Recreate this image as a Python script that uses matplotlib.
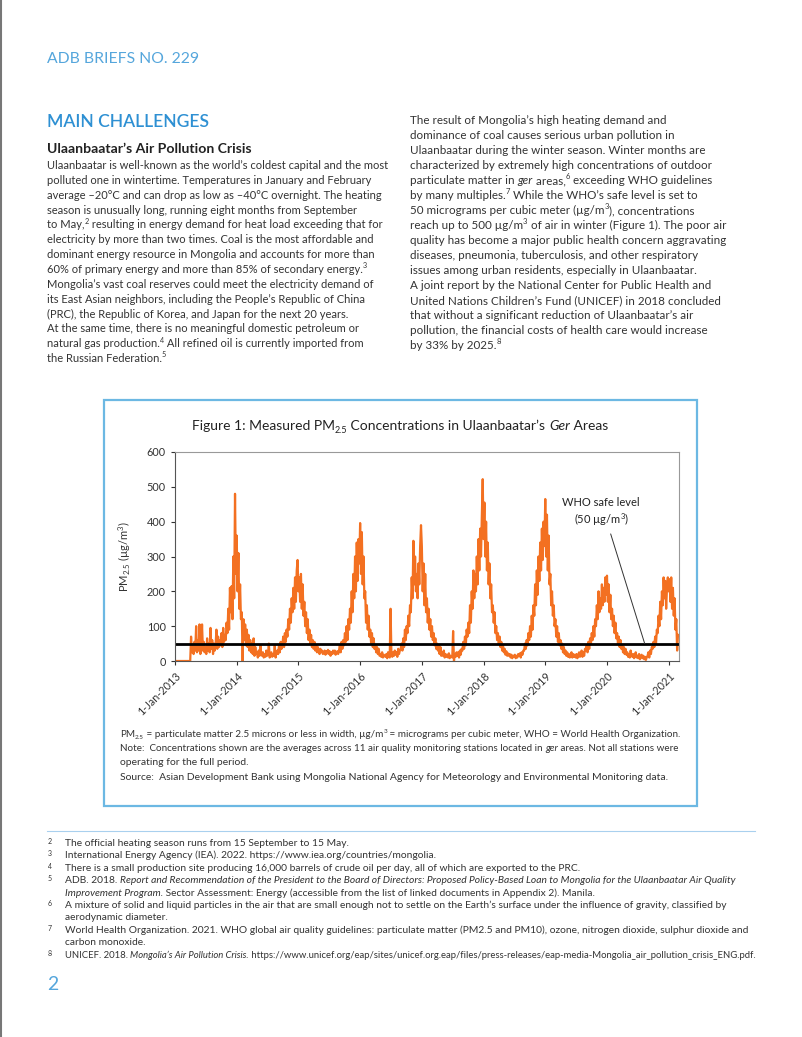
import re
import matplotlib.pyplot as plt
from matplotlib.patches import Rectangle
from matplotlib.lines import Line2D
import pandas as pd

plt.rcParams['font.family'] = ['Lato', 'DejaVu Sans']
plt.rcParams['mathtext.fontset'] = 'custom'
plt.rcParams['mathtext.rm'] = 'Lato'
plt.rcParams['mathtext.it'] = 'Lato:italic'
plt.rcParams['mathtext.default'] = 'regular'

# PM2.5 readings, one value about every 5 days (6 per month, 7 in December)
pm_2013 = [0, 0, 0, 0, 0, 0,  0, 0, 0, 0, 0, 0,  0, 0, 0, 0, 0, 0,
           0, 70, 25, 45, 20, 55,  30, 100, 25, 60, 30, 105,  20, 45, 105, 30, 55, 25,
           40, 20, 65, 30, 50, 25,  95, 35, 60, 20, 50, 30,  45, 90, 35, 70, 40, 60,
           45, 80, 40, 95, 55, 75,  60, 110, 80, 150, 90, 210,  140, 215, 120, 300, 180, 480, 250]
pm_2014 = [360, 200, 310, 150, 220, 120,  140, 0, 120, 60, 105, 45,  90, 40, 75, 30, 60, 25,
           50, 20, 65, 15, 40, 20,  25, 10, 30, 15, 45, 20,  15, 25, 10, 20, 12, 30,
           15, 20, 50, 10, 18, 25,  12, 20, 15, 45, 10, 25,  30, 20, 45, 25, 55, 35,
           45, 70, 40, 80, 55, 90,  70, 120, 90, 150, 110, 180,  140, 210, 150, 240, 170, 260, 290]
pm_2015 = [200, 240, 170, 250, 150, 220,  130, 170, 100, 140, 80, 120,  60, 90, 50, 75, 40, 60,
           35, 55, 30, 45, 25, 40,  30, 20, 35, 25, 30, 20,  25, 30, 18, 28, 22, 32,
           20, 28, 15, 25, 20, 30,  22, 30, 18, 25, 28, 20,  30, 45, 25, 55, 35, 60,
           45, 80, 55, 100, 60, 120,  90, 150, 110, 200, 140, 250,  180, 300, 200, 340, 230, 350, 280]
pm_2016 = [396, 250, 370, 220, 300, 180,  200, 110, 160, 90, 130, 70,  90, 50, 80, 40, 65, 35,
           45, 25, 40, 20, 35, 15,  20, 12, 25, 10, 18, 15,  12, 20, 8, 25, 15, 10,
           150, 20, 12, 25, 15, 30,  18, 25, 12, 35, 20, 30,  35, 50, 30, 65, 40, 90,
           60, 100, 80, 130, 100, 160,  140, 240, 180, 345, 220, 300,  200, 250, 180, 280, 220, 330, 390]
pm_2017 = [330, 200, 280, 160, 250, 140,  180, 110, 150, 90, 120, 70,  100, 60, 80, 45, 65, 35,
           50, 30, 45, 20, 40, 15,  25, 15, 30, 10, 20, 12,  18, 10, 22, 8, 15, 12,
           10, 86, 0, 20, 12, 25,  15, 25, 10, 30, 18, 35,  30, 55, 35, 70, 45, 90,
           70, 110, 80, 160, 110, 200,  150, 260, 180, 250, 200, 300,  220, 350, 260, 380, 300, 420, 522]
pm_2018 = [350, 455, 300, 400, 260, 340,  220, 280, 180, 220, 140, 160,  110, 140, 80, 100, 60, 80,
           50, 70, 40, 55, 30, 45,  25, 35, 18, 28, 15, 22,  15, 20, 10, 18, 8, 15,
           12, 18, 8, 15, 10, 20,  15, 22, 10, 25, 18, 30,  30, 50, 35, 60, 45, 80,
           60, 100, 70, 130, 90, 160,  130, 220, 160, 260, 190, 300,  230, 340, 260, 380, 290, 400, 330]
pm_2019 = [465, 300, 420, 260, 360, 220,  250, 160, 200, 130, 160, 100,  120, 70, 100, 55, 80, 45,
           60, 35, 50, 25, 40, 20,  30, 15, 25, 12, 20, 10,  15, 25, 10, 20, 12, 18,
           10, 20, 8, 15, 25, 12,  18, 30, 12, 25, 15, 35,  30, 45, 25, 55, 35, 65,
           50, 80, 60, 100, 70, 120,  100, 160, 120, 200, 140, 180,  150, 220, 160, 210, 170, 240, 190]
pm_2020 = [245, 170, 220, 140, 190, 120,  150, 100, 130, 80, 110, 65,  80, 50, 70, 40, 60, 35,
           45, 25, 40, 20, 35, 18,  25, 12, 20, 10, 30, 15,  12, 20, 8, 15, 25, 10,
           15, 8, 20, 5, 12, 18,  8, 15, 5, 12, 3, 10,  15, 25, 10, 30, 20, 40,
           35, 55, 40, 70, 50, 90,  80, 130, 100, 170, 120, 200,  160, 240, 180, 230, 150, 210, 240]
pm_2021 = [200, 235, 170, 240, 150, 210,  130, 180, 90, 120, 30, 75]

who_level = 50
year_ticks = list(range(2013, 2022))
y_ticks = [0, 100, 200, 300, 400, 500, 600]

pm = pm_2013 + pm_2014 + pm_2015 + pm_2016 + pm_2017 + pm_2018 + pm_2019 + pm_2020 + pm_2021
dates = pd.date_range('2013-01-01', periods=len(pm), freq='5D')

# *italic*, ^superscript^, ~subscript~
left_lines = [
    "Ulaanbaatar is well-known as the world’s coldest capital and the most",
    "polluted one in wintertime. Temperatures in January and February",
    "average –20°C and can drop as low as –40°C overnight. The heating",
    "season is unusually long, running eight months from September",
    "to May,^2^ resulting in energy demand for heat load exceeding that for",
    "electricity by more than two times. Coal is the most affordable and",
    "dominant energy resource in Mongolia and accounts for more than",
    "60% of primary energy and more than 85% of secondary energy.^3^",
    "Mongolia’s vast coal reserves could meet the electricity demand of",
    "its East Asian neighbors, including the People’s Republic of China",
    "(PRC), the Republic of Korea, and Japan for the next 20 years.",
    "At the same time, there is no meaningful domestic petroleum or",
    "natural gas production.^4^ All refined oil is currently imported from",
    "the Russian Federation.^5^",
]
right_lines = [
    "The result of Mongolia’s high heating demand and",
    "dominance of coal causes serious urban pollution in",
    "Ulaanbaatar during the winter season. Winter months are",
    "characterized by extremely high concentrations of outdoor",
    "particulate matter in *ger* areas,^6^ exceeding WHO guidelines",
    "by many multiples.^7^ While the WHO’s safe level is set to",
    "50 micrograms per cubic meter (µg/m^3^), concentrations",
    "reach up to 500 µg/m^3^ of air in winter (Figure 1). The poor air",
    "quality has become a major public health concern aggravating",
    "diseases, pneumonia, tuberculosis, and other respiratory",
    "issues among urban residents, especially in Ulaanbaatar.",
    "A joint report by the National Center for Public Health and",
    "United Nations Children’s Fund (UNICEF) in 2018 concluded",
    "that without a significant reduction of Ulaanbaatar’s air",
    "pollution, the financial costs of health care would increase",
    "by 33% by 2025.^8^",
]
footnotes = [
    ("2", "The official heating season runs from 15 September to 15 May."),
    ("3", "International Energy Agency (IEA). 2022. https://www.iea.org/countries/mongolia."),
    ("4", "There is a small production site producing 16,000 barrels of crude oil per day, all of which are exported to the PRC."),
    ("5", "ADB. 2018. *Report and Recommendation of the President to the Board of Directors: Proposed Policy-Based Loan to Mongolia for the Ulaanbaatar Air Quality*"),
    ("", "*Improvement Program.* Sector Assessment: Energy (accessible from the list of linked documents in Appendix 2). Manila."),
    ("6", "A mixture of solid and liquid particles in the air that are small enough not to settle on the Earth’s surface under the influence of gravity, classified by"),
    ("", "aerodynamic diameter."),
    ("7", "World Health Organization. 2021. WHO global air quality guidelines: particulate matter (PM2.5 and PM10), ozone, nitrogen dioxide, sulphur dioxide and"),
    ("", "carbon monoxide."),
    ("8", "UNICEF. 2018. *Mongolia’s Air Pollution Crisis.* https://www.unicef.org/eap/sites/unicef.org.eap/files/press-releases/eap-media-Mongolia_air_pollution_crisis_ENG.pdf."),
]
notes = [
    "PM~2.5~ = particulate matter 2.5 microns or less in width, µg/m^3^ = micrograms per cubic meter, WHO = World Health Organization.",
    "Note:  Concentrations shown are the averages across 11 air quality monitoring stations located in *ger* areas. Not all stations were",
    "operating for the full period.",
    "Source:  Asian Development Bank using Mongolia National Agency for Meteorology and Environmental Monitoring data.",
]
chart_title = "Figure 1: Measured PM~2.5~ Concentrations in Ulaanbaatar’s *Ger* Areas"

W, H = 802, 1037
fig = plt.figure(figsize=(W / 100, H / 100), dpi=100)
renderer = fig.canvas.get_renderer()


def put(x, y, s, **kw):
    # x, y in page pixels from the top-left, y is the baseline
    kw.setdefault('va', 'baseline')
    return fig.text(x / W, 1 - y / H, s, **kw)


def width(s, **kw):
    t = fig.text(0, 0, 'x' + s + 'x', **kw)
    w = t.get_window_extent(renderer).width
    t.remove()
    t = fig.text(0, 0, 'xx', **kw)
    w -= t.get_window_extent(renderer).width
    t.remove()
    return w


def runs(x, y, s, size, color, center=False, fit=None):
    parts = [p for p in re.split(r'(\*[^*]+\*|\^[^^]+\^|~[^~]+~)', s) if p]

    def layout(size):
        pieces = []
        for p in parts:
            kw = dict(fontsize=size, color=color)
            dy = 0
            if p[0] == '*':
                p = p[1:-1]
                kw['fontstyle'] = 'italic'
            elif p[0] == '^':
                p = p[1:-1]
                kw['fontsize'] = size * 0.65
                dy = -size * 0.42 * 100 / 72
            elif p[0] == '~':
                p = p[1:-1]
                kw['fontsize'] = size * 0.65
                dy = size * 0.2 * 100 / 72
            pieces.append((p, kw, dy, width(p, **kw)))
        return pieces

    pieces = layout(size)
    total = sum(pc[3] for pc in pieces)
    if fit and total > fit:
        pieces = layout(size * fit / total)
        total = sum(pc[3] for pc in pieces)
    if center:
        x -= total / 2
    for p, kw, dy, w in pieces:
        put(x, y + dy, p, **kw)
        x += w


body = '#333333'

fig.add_artist(Line2D([1 / W, 1 / W], [0, 1], color='#777777', lw=1.5))
put(47, 63, "ADB BRIEFS NO. 229", fontsize=11.3, color='#55A6DC')
put(47, 127, "MAIN CHALLENGES", fontsize=12.6, fontweight='semibold', color='#2E90D3')
put(47, 153, "Ulaanbaatar’s Air Pollution Crisis", fontsize=10.1, fontweight='bold', color='#222222')

for i, line in enumerate(left_lines):
    runs(47, 169 + i * 14.85, line, 8.0, body)
for i, line in enumerate(right_lines):
    runs(410, 124 + i * 15.0, line, 8.4, body)

# figure box
fig.add_artist(Rectangle((104 / W, 1 - 806 / H), 593 / W, 406 / H, transform=fig.transFigure,
                         fill=False, ec='#6CB8E3', lw=1.6))
runs(400, 430, chart_title, 10.0, '#222222', center=True)

ax = fig.add_axes([175 / W, 1 - 661 / H, 504 / W, 209 / H])
ax.plot(dates, pm, color='#F37021', lw=1.6)
ax.axhline(who_level, color='black', lw=2)
ax.set_ylim(0, 600)
ax.set_xlim(pd.Timestamp('2013-01-01'), pd.Timestamp('2021-03-01'))
ax.set_yticks(y_ticks)
ax.set_xticks([pd.Timestamp(f'{y}-01-01') for y in year_ticks])
ax.set_xticklabels([f'1-Jan-{y}' for y in year_ticks], rotation=45, ha='right',
                   rotation_mode='anchor')
ax.tick_params(labelsize=7.8, colors='#333333', length=3, width=0.8)
ax.set_ylabel("PM$_{2.5}$ (µg/m$^{3}$)", fontsize=8, color='#333333', labelpad=10)
for side in ['left', 'bottom']:
    ax.spines[side].set_color('#555555')
for side in ['top', 'right']:
    ax.spines[side].set_color('#999999')
ax.annotate("WHO safe level\n(50 µg/m$^{3}$)", xy=(pd.Timestamp('2020-08-10'), who_level),
            xytext=(pd.Timestamp('2019-11-27'), 425), ha='center', va='center',
            fontsize=8, color='#222222', linespacing=1.3,
            arrowprops=dict(arrowstyle='-', color='#333333', lw=0.7,
                            relpos=(0.6, 0), shrinkA=2, shrinkB=0))

note_widths = [556, 554, None, 551]
for i, line in enumerate(notes):
    runs(120, 737 + i * 14 + (1 if i == 3 else 0), line, 7.5, body, fit=note_widths[i])

fig.add_artist(Line2D([47 / W, 755 / W], [1 - 831 / H, 1 - 831 / H], color='#A9D0EE', lw=0.8))
for i, (num, line) in enumerate(footnotes):
    y = 846 + i * 12.4
    if num:
        put(50, y - 2, num, fontsize=5, color=body, ha='center')
    runs(65, y, line, 7.4, body, fit=688)

put(47, 990, "2", fontsize=14, color='#55A6DC')

fig.savefig('out.png', dpi=100)
